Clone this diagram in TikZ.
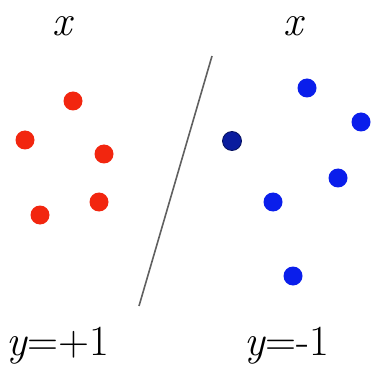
\documentclass[tikz,border=0pt]{standalone}
\usepackage{tikz}
\definecolor{redpt}{HTML}{F2260F}
\definecolor{bluept}{HTML}{0A1EEB}
\definecolor{navypt}{HTML}{0A1C9E}
\definecolor{sepline}{HTML}{606060}
\tikzset{
  dot/.style={circle,inner sep=0pt,minimum size=19pt},
  lab/.style={inner sep=0pt,font=\fontsize{43}{46}\selectfont}
}
\begin{document}
\begin{tikzpicture}[x=1pt,y=-1pt]
\useasboundingbox (0,0) rectangle (374,371);
% class labels
\node[lab] (xl) at (62,26) {\itshape x};
\node[lab] (xr) at (293,26) {\itshape x};
\node[lab,anchor=base west] (yl) at (6,355) {\textit{y}=+1};
\node[lab,anchor=base west] (yr) at (244,355) {\textit{y}=-1};
% red points
\node[dot,fill=redpt] (r1) at (73,101) {};
\node[dot,fill=redpt] (r2) at (25,140) {};
\node[dot,fill=redpt] (r3) at (104,154) {};
\node[dot,fill=redpt] (r4) at (99,202) {};
\node[dot,fill=redpt] (r5) at (40,215) {};
% blue points
\node[dot,fill=bluept] (b1) at (307,88) {};
\node[dot,fill=bluept] (b2) at (361,122) {};
\node[dot,fill=navypt,draw=navypt!60!black,thick] (b3) at (232,141) {};
\node[dot,fill=bluept] (b4) at (338,178) {};
\node[dot,fill=bluept] (b5) at (273,202) {};
\node[dot,fill=bluept] (b6) at (293,276) {};
% separator
\coordinate (s1) at (212,56);
\coordinate (s2) at (139,306);
\draw[sepline,line width=1.6pt] (s1) -- (s2);
\end{tikzpicture}
\end{document}
